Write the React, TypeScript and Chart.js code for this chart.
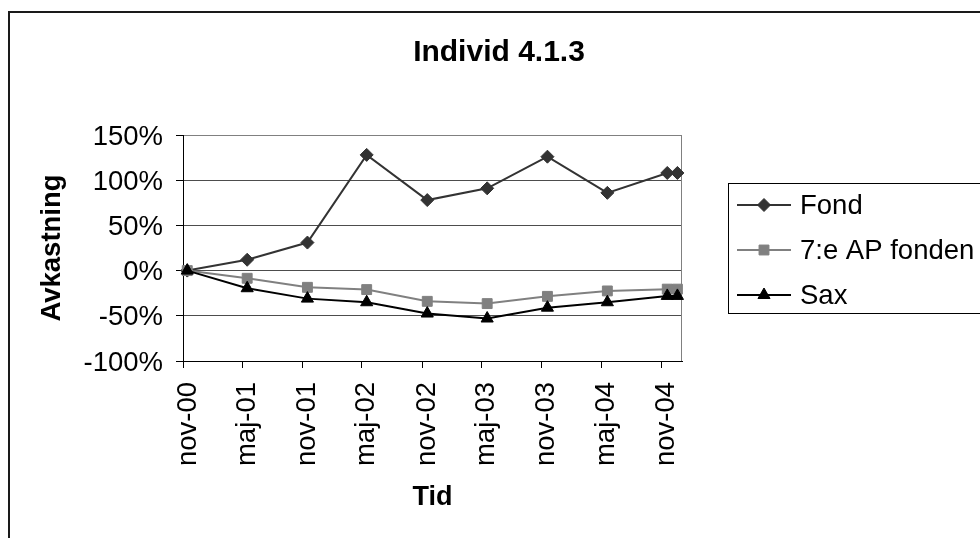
import React, { useEffect, useRef } from 'react';
import { Chart, registerables } from 'chart.js';

Chart.register(...registerables);

// ---- chart data ----
const chartTitle = 'Individ 4.1.3';
const yAxisTitle = 'Avkastning';
const xAxisTitle = 'Tid';
const seriesNames = ['Fond', '7:e AP fonden', 'Sax'];

const tickLabels = ['nov-00', 'maj-01', 'nov-01', 'maj-02', 'nov-02', 'maj-03', 'nov-03', 'maj-04', 'nov-04'];
const tickDates = ['2000-11-01', '2001-05-01', '2001-11-01', '2002-05-01', '2002-11-01', '2003-05-01', '2003-11-01', '2004-05-01', '2004-11-01'];
const axisStart = '2000-11-01';
const axisEnd = '2005-01-03';

const pointDates = ['2000-11-14', '2001-05-16', '2001-11-16', '2002-05-16', '2002-11-17', '2003-05-19', '2003-11-19', '2004-05-20', '2004-11-19', '2004-12-20'];
const fondValues = [0, 12, 31, 128, 78, 91, 126, 86, 108, 108];
const apValues = [0, -8.5, -18.5, -21, -34, -36.5, -28.5, -22.5, -20.5, -20.5];
const saxValues = [0, -19.5, -31, -35, -47.5, -53, -41, -35, -28, -28];

const yMin = -100;
const yMax = 150;
const yStep = 50;

// ---- styling ----
const FONT = '"Liberation Sans", Arial, Helvetica, sans-serif';
const seriesStyles = [
  { color: '#333333', marker: 'rectRot', radius: 6.5 },
  { color: '#808080', marker: 'rect', radius: 7 },
  { color: '#000000', marker: 'triangle', radius: 7 },
];

const toDay = (s: string) => Date.parse(s + 'T00:00:00Z') / 86400000;

function markerPath(ctx: CanvasRenderingContext2D, kind: string, x: number, y: number, r: number) {
  ctx.beginPath();
  if (kind === 'rectRot') {
    ctx.moveTo(x - r, y);
    ctx.lineTo(x, y - r);
    ctx.lineTo(x + r, y);
    ctx.lineTo(x, y + r);
  } else if (kind === 'rect') {
    const h = r * Math.SQRT1_2;
    ctx.rect(x - h, y - h, 2 * h, 2 * h);
  } else {
    const w = r * Math.sin(Math.PI / 3);
    ctx.moveTo(x, y - r);
    ctx.lineTo(x + w, y + r / 2);
    ctx.lineTo(x - w, y + r / 2);
  }
  ctx.closePath();
}

const decorPlugin = {
  id: 'decor',
  beforeDraw(chart: any) {
    const { ctx, width, height } = chart;
    ctx.save();
    ctx.fillStyle = '#ffffff';
    ctx.fillRect(0, 0, width, height);
    ctx.restore();
  },
  beforeDatasetsDraw(chart: any) {
    const { ctx, chartArea } = chart;
    ctx.save();
    ctx.strokeStyle = '#808080';
    ctx.lineWidth = 1;
    ctx.beginPath();
    ctx.moveTo(Math.round(chartArea.right) - 0.5, chartArea.top);
    ctx.lineTo(Math.round(chartArea.right) - 0.5, chartArea.bottom);
    ctx.stroke();
    ctx.restore();
  },
  afterDraw(chart: any) {
    const { ctx } = chart;
    ctx.save();

    // outer chart frame
    ctx.strokeStyle = '#1a1a1a';
    ctx.lineWidth = 2;
    ctx.strokeRect(9, 12, 1400, 900);

    // title
    ctx.fillStyle = '#000000';
    ctx.font = `bold 30px ${FONT}`;
    ctx.textAlign = 'center';
    ctx.textBaseline = 'alphabetic';
    ctx.fillText(chartTitle, 499, 61);

    // legend
    const boxX = 728.5;
    const boxY = 183.5;
    ctx.fillStyle = '#ffffff';
    ctx.fillRect(boxX, boxY, 600, 130);
    ctx.strokeStyle = '#000000';
    ctx.lineWidth = 1;
    ctx.strokeRect(boxX, boxY, 600, 130);

    const rows = [205, 250, 295];
    chart.data.datasets.forEach((ds: any, i: number) => {
      const y = rows[i];
      const st = seriesStyles[i];
      ctx.strokeStyle = st.color;
      ctx.lineWidth = 2;
      ctx.beginPath();
      ctx.moveTo(737, y);
      ctx.lineTo(791, y);
      ctx.stroke();
      markerPath(ctx, st.marker, 764, y, st.radius);
      ctx.fillStyle = st.color;
      ctx.fill();
      ctx.lineWidth = 1;
      ctx.stroke();
      ctx.fillStyle = '#000000';
      ctx.font = `27.5px ${FONT}`;
      ctx.textAlign = 'left';
      ctx.textBaseline = 'middle';
      ctx.fillText(ds.label, 800, y + 1);
    });

    ctx.restore();
  },
};

export default function App() {
  const canvasRef = useRef<HTMLCanvasElement | null>(null);

  useEffect(() => {
    const canvas = canvasRef.current;
    if (!canvas) return;

    const valueSets = [fondValues, apValues, saxValues];
    const datasets = valueSets.map((vals, i) => {
      const st = seriesStyles[i];
      return {
        label: seriesNames[i],
        data: vals.map((v, j) => ({ x: toDay(pointDates[j]), y: v })),
        borderColor: st.color,
        backgroundColor: st.color,
        borderWidth: 2,
        pointStyle: st.marker,
        pointRadius: st.radius,
        pointBorderWidth: 1,
        pointBackgroundColor: st.color,
        pointBorderColor: st.color,
        tension: 0,
        order: 3 - i,
        clip: false as any,
      };
    });

    const chart = new Chart(canvas, {
      type: 'line',
      data: { datasets },
      plugins: [decorPlugin],
      options: {
        responsive: false,
        animation: false,
        devicePixelRatio: 1,
        layout: { padding: { left: 0, top: 135, right: 298, bottom: 0 } },
        plugins: {
          legend: { display: false },
          title: { display: false },
          tooltip: { enabled: false },
        },
        scales: {
          x: {
            type: 'linear',
            min: toDay(axisStart),
            max: toDay(axisEnd),
            afterBuildTicks: (scale: any) => {
              scale.ticks = tickDates.map((d) => ({ value: toDay(d) }));
            },
            afterFit: (scale: any) => {
              scale.height = 177;
            },
            ticks: {
              autoSkip: false,
              minRotation: 90,
              maxRotation: 90,
              padding: 14,
              labelOffset: 5,
              color: '#000000',
              font: { family: FONT, size: 27.5 },
              callback: (_v: any, index: number) => tickLabels[index],
            },
            grid: {
              display: true,
              drawOnChartArea: false,
              drawTicks: true,
              tickLength: 7,
              tickColor: '#000000',
              tickWidth: 1,
            },
            border: { display: true, color: '#000000', width: 1 },
            title: {
              display: true,
              text: xAxisTitle,
              color: '#000000',
              font: { family: FONT, size: 27, weight: 'bold' },
              padding: { top: 0, bottom: 24 },
            },
          },
          y: {
            type: 'linear',
            min: yMin,
            max: yMax,
            afterFit: (scale: any) => {
              scale.width = 183;
            },
            ticks: {
              stepSize: yStep,
              padding: 13,
              labelOffset: 2,
              color: '#000000',
              font: { family: FONT, size: 27.5 },
              callback: (v: any) => `${v}%`,
            },
            grid: {
              color: (c: any) => (c.tick && c.tick.value === yMax ? '#808080' : '#4d4d4d'),
              lineWidth: 1,
              drawTicks: true,
              tickLength: 7,
              tickColor: '#000000',
            },
            border: { display: true, color: '#000000', width: 1 },
            title: {
              display: true,
              text: yAxisTitle,
              color: '#000000',
              font: { family: FONT, size: 27.5, weight: 'bold' },
              padding: { top: 36, bottom: 0 },
            },
          },
        },
      } as any,
    });

    return () => chart.destroy();
  }, []);

  return (
    <div style={{ position: 'absolute', left: 0, top: 0, width: 980, height: 538, background: '#ffffff' }}>
      <canvas ref={canvasRef} width={980} height={538} style={{ display: 'block', width: 980, height: 538 }} />
    </div>
  );
}
